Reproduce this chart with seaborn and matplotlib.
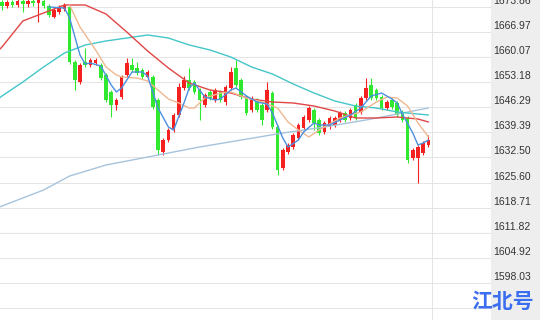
import numpy as np
import pandas as pd
import matplotlib
matplotlib.use("Agg")
import matplotlib.pyplot as plt
import matplotlib.transforms as mtransforms
from matplotlib.patches import Rectangle
import seaborn as sns

# ---------------- data ----------------
opens = [
    1675.21, 1674.11, 1675.21, 1674.39, 1675.49, 1674.66, 1675.49, 1674.94, 1675.49, 1674.11,
    1671.09, 1672.46, 1673.29, 1673.84, 1658.73, 1653.23, 1658.73, 1657.90, 1658.45, 1657.90,
    1655.16, 1650.49, 1646.92, 1649.11, 1655.16, 1657.90, 1657.08, 1656.53, 1654.61, 1654.61,
    1648.29, 1634.01, 1637.30, 1640.05, 1644.17, 1651.59, 1653.78, 1653.23, 1651.04, 1646.92,
    1650.49, 1648.29, 1650.49, 1647.74, 1651.59, 1657.08, 1653.78, 1649.11, 1645.54, 1648.29,
    1646.92, 1645.54, 1650.21, 1640.87, 1629.61, 1634.01, 1635.38, 1637.85, 1640.60, 1642.80,
    1645.54, 1642.80, 1639.50, 1640.87, 1641.42, 1642.80, 1644.72, 1643.35, 1646.92, 1644.99,
    1648.84, 1652.41, 1651.04, 1649.11, 1646.09, 1648.29, 1647.47, 1644.99, 1643.35, 1632.36,
    1632.36, 1633.73, 1635.93]
closes = [
    1674.11, 1675.21, 1674.39, 1675.49, 1674.66, 1675.49, 1674.94, 1675.76, 1674.11, 1671.64,
    1673.01, 1673.84, 1674.39, 1658.73, 1653.78, 1657.90, 1657.90, 1659.28, 1659.28, 1654.33,
    1648.29, 1646.92, 1648.29, 1654.61, 1658.45, 1656.53, 1655.71, 1654.61, 1655.98, 1646.37,
    1634.55, 1637.30, 1640.05, 1644.17, 1651.86, 1653.78, 1651.59, 1650.49, 1648.29, 1649.66,
    1648.84, 1651.04, 1648.29, 1651.86, 1655.98, 1652.41, 1649.11, 1644.72, 1648.84, 1645.54,
    1642.80, 1651.04, 1640.87, 1629.06, 1634.55, 1635.93, 1638.68, 1641.42, 1643.62, 1646.09,
    1641.97, 1639.22, 1641.97, 1643.35, 1643.35, 1644.72, 1642.80, 1645.54, 1643.35, 1648.84,
    1651.59, 1648.84, 1648.84, 1646.09, 1647.74, 1646.37, 1644.17, 1642.80, 1631.81, 1634.55,
    1635.38, 1636.48, 1637.30]
highs = [
    1675.76, 1675.76, 1675.76, 1676.30, 1676.00, 1676.20, 1676.00, 1676.30, 1676.00, 1674.66,
    1673.56, 1674.39, 1674.94, 1674.39, 1659.28, 1658.45, 1662.57, 1659.83, 1659.83, 1658.45,
    1655.71, 1651.04, 1648.84, 1655.16, 1659.83, 1659.83, 1658.73, 1657.08, 1656.53, 1655.16,
    1648.84, 1637.85, 1640.60, 1644.72, 1652.96, 1654.88, 1657.08, 1653.78, 1651.59, 1650.21,
    1651.04, 1651.59, 1651.04, 1652.41, 1657.36, 1659.28, 1654.33, 1649.66, 1649.39, 1648.84,
    1647.47, 1653.23, 1650.76, 1641.42, 1635.10, 1636.48, 1639.22, 1641.97, 1644.17, 1646.64,
    1646.09, 1643.35, 1642.52, 1643.89, 1643.89, 1645.27, 1645.27, 1646.09, 1647.47, 1649.39,
    1654.33, 1654.33, 1651.59, 1649.66, 1648.29, 1648.84, 1648.02, 1645.54, 1643.89, 1635.10,
    1635.93, 1637.03, 1638.68]
lows = [
    1673.01, 1673.56, 1673.84, 1673.84, 1672.46, 1673.84, 1674.11, 1669.72, 1673.56, 1671.09,
    1670.82, 1671.91, 1672.74, 1658.18, 1651.04, 1652.69, 1657.36, 1657.36, 1657.90, 1653.78,
    1647.74, 1643.62, 1645.54, 1648.56, 1654.61, 1655.98, 1655.16, 1654.06, 1654.06, 1645.82,
    1633.18, 1633.18, 1636.75, 1639.50, 1643.62, 1651.04, 1651.04, 1649.94, 1642.80, 1646.37,
    1648.29, 1647.74, 1647.74, 1646.92, 1651.04, 1651.86, 1648.56, 1644.17, 1644.99, 1644.99,
    1641.42, 1644.99, 1640.32, 1627.69, 1629.06, 1633.46, 1634.83, 1637.30, 1640.05, 1642.25,
    1640.05, 1638.68, 1638.95, 1640.32, 1640.87, 1642.25, 1642.25, 1642.80, 1642.80, 1644.44,
    1648.29, 1648.29, 1648.29, 1645.54, 1645.54, 1645.82, 1643.62, 1642.25, 1630.98, 1631.81,
    1625.49, 1633.18, 1635.38]

# moving-average lines (candle index, value)
ma_red_idx = [-1, 0, 4, 8, 12, 16, 20, 24, 28, 32, 36, 40, 44, 48, 52, 56, 60, 64, 68, 72, 76, 80, 82]
ma_red_val = [1661.47, 1662.85, 1669.99, 1672.19, 1674.39, 1674.39, 1671.91, 1666.97, 1661.75, 1657.08,
              1652.96, 1651.04, 1650.21, 1648.56, 1647.74, 1647.47, 1646.64, 1645.27, 1643.35, 1643.35,
              1643.62, 1643.07, 1642.25]
ma_cyan_idx = [-1, 0, 4, 8, 12, 16, 20, 24, 28, 32, 36, 40, 44, 48, 52, 56, 60, 64, 68, 72, 76, 80, 82]
ma_cyan_val = [1648.29, 1649.39, 1653.23, 1657.36, 1661.20, 1663.40, 1664.50, 1665.32, 1666.15, 1665.32,
               1663.40, 1662.03, 1660.10, 1657.36, 1655.43, 1652.69, 1650.21, 1648.02, 1646.64, 1646.09,
               1644.99, 1644.44, 1644.17]
ma_lblue_idx = [-1, 0, 8, 13, 20, 30, 38, 46, 54, 62, 70, 76, 82]
ma_lblue_val = [1618.62, 1619.17, 1623.57, 1627.41, 1630.43, 1633.18, 1635.38, 1637.30, 1639.22,
                1640.87, 1642.80, 1644.44, 1646.09]
ma5_idx = [9, 12, 13, 15, 16, 17, 19, 21, 22, 23, 25, 27, 28, 30, 32, 33, 35, 36, 37, 39, 41, 42, 44,
           45, 47, 49, 51, 52, 54, 55, 57, 58, 60, 61, 63, 65, 67, 69, 71, 73, 74, 75, 76, 77, 79, 80,
           81, 82]
ma5_val = [1673.84, 1673.56, 1670.82, 1660.65, 1658.18, 1658.45, 1657.63, 1652.41, 1650.49, 1651.59,
           1655.98, 1655.98, 1654.88, 1646.09, 1640.87, 1640.05, 1647.47, 1651.59, 1652.96, 1649.11,
           1648.29, 1648.56, 1651.04, 1651.59, 1649.39, 1647.74, 1647.19, 1644.72, 1637.85, 1635.38,
           1637.30, 1639.50, 1641.97, 1641.42, 1641.42, 1642.80, 1644.17, 1646.09, 1649.39, 1650.21,
           1649.39, 1648.56, 1647.47, 1644.44, 1639.22, 1635.93, 1636.48, 1637.30]
ma10_idx = [13, 15, 18, 20, 22, 23, 26, 28, 30, 32, 34, 36, 37, 39, 42, 44, 47, 50, 53, 55, 57, 59,
            61, 63, 65, 67, 69, 72, 74, 76, 78, 80, 82]
ma10_val = [1674.39, 1668.34, 1662.03, 1657.36, 1655.16, 1654.61, 1654.33, 1653.51, 1651.04, 1648.56,
            1647.47, 1646.09, 1646.09, 1648.84, 1650.21, 1650.49, 1648.84, 1647.74, 1646.09, 1642.25,
            1640.05, 1638.13, 1640.05, 1641.70, 1643.35, 1644.17, 1644.99, 1647.74, 1649.11, 1648.84,
            1646.64, 1641.97, 1638.13]

price_ticks = [1673.86, 1666.97, 1660.07, 1653.18, 1646.29, 1639.39, 1632.50,
               1625.60, 1618.71, 1611.82, 1604.92, 1598.03, 1591.13]
tick_labels = [f"{v:.2f}" for v in price_ticks]
time_grid = [82.7]
watermark = "江北号"

# ---------------- style ----------------
RED = "#f52020"
GREEN = "#2fe82f"
BAND = "#eeeeee"

sns.set_theme(style="white")
plt.rcParams["font.family"] = ["Liberation Sans", "DejaVu Sans"]

W, H = 540, 320
fig = plt.figure(figsize=(W / 100, H / 100), dpi=100)
fig.patch.set_facecolor("white")
axis_px = 491
fig.patches.append(Rectangle((axis_px / W, 0), 1 - axis_px / W, 1, transform=fig.transFigure,
                             facecolor=BAND, edgecolor="none", zorder=-5))
ax = fig.add_axes([0, 0, axis_px / W, 1])
ax.set_facecolor("white")

df = pd.DataFrame({"o": opens, "c": closes, "h": highs, "l": lows})
df["i"] = np.arange(len(df))
colors = np.where(df["c"] >= df["o"], RED, GREEN)

ax.vlines(df["i"], df["l"], df["h"], colors=colors, linewidth=0.8, zorder=2)
ax.bar(df["i"], (df["c"] - df["o"]).abs(), bottom=df[["o", "c"]].min(axis=1),
       width=0.72, color=colors, linewidth=0, zorder=3)

lines = [
    (ma_lblue_idx, ma_lblue_val, "#a7c3dc"),
    (ma_cyan_idx, ma_cyan_val, "#45c6c9"),
    (ma_red_idx, ma_red_val, "#e04646"),
    (ma10_idx, ma10_val, "#f0b891"),
    (ma5_idx, ma5_val, "#4a8fe0"),
]
for idx, vals, col in lines:
    sns.lineplot(x=idx, y=vals, ax=ax, color=col, linewidth=1.0, sort=False,
                 estimator=None, zorder=4)

ax.set_xlim(-0.385, 94.04)
ax.set_ylim(1587.86, 1675.76)
for s in ax.spines.values():
    s.set_visible(False)

ax.set_xticks(time_grid)
ax.tick_params(axis="x", length=0, labelbottom=False)
ax.yaxis.tick_right()
ax.set_yticks(price_ticks, tick_labels)
ax.tick_params(axis="y", length=0, pad=1.5, labelsize=7.5, labelcolor="#333333")
ax.grid(True, color="#e4e4e4", linewidth=0.75)
ax.set_axisbelow(True)
ax.set_xlabel("")
ax.set_ylabel("")

offset = mtransforms.ScaledTranslation(0, 7 / 100, fig.dpi_scale_trans)
for lab in ax.get_yticklabels():
    lab.set_transform(lab.get_transform() + offset)

# the watermark sits on its own patch of the axis band, hiding the label under it
fig.add_artist(Rectangle((axis_px / W, 1 - 312 / H), 1 - axis_px / W, 20 / H,
                         transform=fig.transFigure, facecolor=BAND, edgecolor="none", zorder=9))
fig.text(503 / W, 1 - 301.5 / H, watermark, ha="center", va="center", fontsize=15,
         fontweight="bold", color="#3b6ef0", family=["Noto Sans CJK SC", "DejaVu Sans"],
         zorder=10)

fig.savefig("out.png", dpi=100)
